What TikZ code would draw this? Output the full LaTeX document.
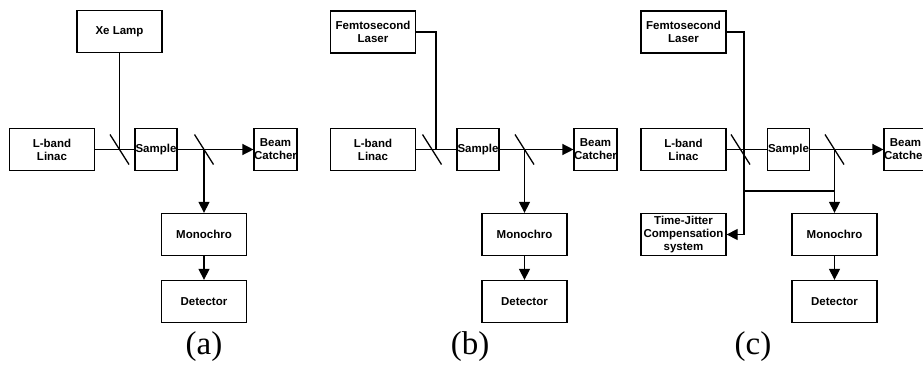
\documentclass[tikz,border=0pt]{standalone}
\usepackage{fontspec}
\setmainfont{Liberation Serif}
\setsansfont{Liberation Sans}
\usetikzlibrary{arrows.meta}
\tikzset{
  unit/.style={draw, line width=1.3pt, inner sep=0pt, align=center, minimum width=85pt, minimum height=42pt, font=\sffamily\bfseries\fontsize{11.5}{13}\selectfont},
  small/.style={unit, minimum width=42pt},
  beam/.style={line width=1.3pt},
  mirror/.style={line width=1.3pt},
  tag/.style={font=\fontsize{33}{36}\selectfont}
}
\begin{document}
\begin{tikzpicture}[x=1pt,y=-1pt,>={Triangle[length=11pt,width=11pt]}, line join=miter]
  \clip (0,0) rectangle (923,377);
  % (a)
  \node[unit] (lampA) at (119.5,31.5) {Xe Lamp};
  \node[unit] (linacA) at (52,149.5) {L-band\\Linac};
  \node[small] (sampleA) at (156,149.5) {Sample};
  \node[small] (beamA) at (275.5,149.5) {Beam\\Catcher};
  \node[unit] (monoA) at (204,234.5) {Monochro};
  \node[unit] (detA) at (204,301.5) {Detector};
  \node[tag] (tagA) at (204,347) {(a)};
  \coordinate (mirA1) at (119.5,149.5);
  \coordinate (mirA2) at (204,149.5);
  \draw[beam] (linacA) -- (sampleA);
  \draw[beam,->] (sampleA) -- (beamA);
  \draw[beam] (lampA) -- (mirA1);
  \draw[beam,->] (mirA2) -- (monoA);
  \draw[beam,->] (monoA) -- (detA);
  % (b)
  \node[unit] (laserB) at (373,32) {Femtosecond\\Laser};
  \node[unit] (linacB) at (373,149.5) {L-band\\Linac};
  \node[small] (sampleB) at (478,149.5) {Sample};
  \node[small] (beamB) at (595.5,149.5) {Beam\\Catcher};
  \node[unit] (monoB) at (524.5,234.5) {Monochro};
  \node[unit] (detB) at (524.5,301.5) {Detector};
  \node[tag] (tagB) at (470,347) {(b)};
  \coordinate (mirB1) at (432,149.5);
  \coordinate (hitB) at (436,149.5);
  \coordinate (mirB2) at (524.5,149.5);
  \draw[beam] (linacB) -- (sampleB);
  \draw[beam,->] (sampleB) -- (beamB);
  \draw[beam] (laserB) -| (hitB);
  \draw[beam,->] (mirB2) -- (monoB);
  \draw[beam,->] (monoB) -- (detB);
  % (c)
  \node[unit] (laserC) at (683.5,32) {Femtosecond\\Laser};
  \node[unit] (linacC) at (683.5,149.5) {L-band\\Linac};
  \node[unit] (jitterC) at (683.5,234.5) {Time-Jitter\\Compensation\\system};
  \node[small] (sampleC) at (788.5,149.5) {Sample};
  \node[small] (beamC) at (905.5,149.5) {Beam\\Catcher};
  \node[unit] (monoC) at (834.5,234.5) {Monochro};
  \node[unit] (detC) at (834.5,301.5) {Detector};
  \node[tag] (tagC) at (753,347) {(c)};
  \coordinate (mirC1) at (740.5,149.5);
  \coordinate (hitC) at (744,149.5);
  \coordinate (mirC2) at (834.5,149.5);
  \coordinate (tapC) at (834.5,191);
  \draw[beam] (linacC) -- (sampleC);
  \draw[beam,->] (sampleC) -- (beamC);
  \draw[beam,->] (laserC) -| (hitC |- jitterC) -- (jitterC);
  \draw[beam] (tapC) -- (tapC -| hitC);
  \draw[beam,->] (mirC2) -- (monoC);
  \draw[beam,->] (monoC) -- (detC);
  % mirrors
  \foreach \m in {mirA1,mirA2,mirB1,mirB2,mirC1,mirC2}
    \draw[mirror] (\m) ++(-9.5,-15) -- ++(19,30);
\end{tikzpicture}
\end{document}
